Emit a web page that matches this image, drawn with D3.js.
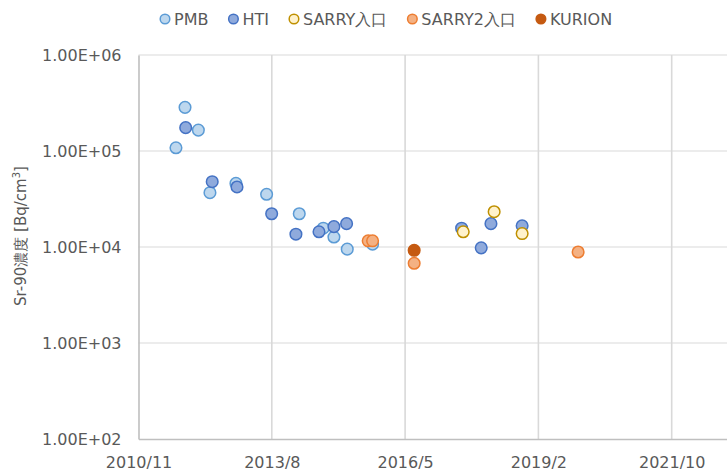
<!DOCTYPE html>
<html lang="ja">
<head>
    <meta charset="UTF-8">
    <title>Sr-90濃度</title>
    <script src="https://d3js.org/d3.v7.min.js"></script>
    <style>
        body { margin: 0; background: #fff; }
        svg text { font-family: "DejaVu Sans", Verdana, sans-serif; fill: #595959; }
    </style>
</head>
<body>
<svg id="chart" width="727" height="475"></svg>
<script>
    // series data (date, Bq/cm3)
    const pmbDates   = ["2011-08-26", "2011-11-02", "2012-02-10", "2012-05-07", "2012-11-18", "2013-07-06",
                        "2014-03-08", "2014-09-04", "2014-11-23", "2015-03-03", "2015-09-09"];
    const pmbValues  = [1.08e5, 2.85e5, 1.65e5, 3.68e4, 4.6e4, 3.54e4, 2.22e4, 1.57e4, 1.27e4, 9.5e3, 1.07e4];

    const htiDates   = ["2011-11-07", "2012-05-24", "2012-11-26", "2013-08-13", "2014-02-11", "2014-08-03",
                        "2014-11-23", "2015-02-26", "2017-07-08", "2017-12-02", "2018-02-13", "2018-10-05"];
    const htiValues  = [1.75e5, 4.79e4, 4.22e4, 2.22e4, 1.36e4, 1.44e4, 1.63e4, 1.75e4, 1.57e4, 9.8e3, 1.75e4, 1.66e4];

    const sarryDates  = ["2017-07-20", "2018-03-09", "2018-10-05"];
    const sarryValues = [1.44e4, 2.33e4, 1.38e4];

    const sarry2Dates  = ["2015-08-07", "2015-09-09", "2016-07-17", "2019-11-29"];
    const sarry2Values = [1.16e4, 1.16e4, 6.77e3, 8.87e3];

    const kurionDates  = ["2016-07-17"];
    const kurionValues = [9.24e3];

    const seriesNames = ["PMB", "HTI", "SARRY入口", "SARRY2入口", "KURION"];
    const yTicks = [1e2, 1e3, 1e4, 1e5, 1e6];
    // Excel-style date axis: start 40500, major unit 1000 days
    const xTickSerials = [40500, 41500, 42500, 43500, 44500];

    const styles = [
        { fill: "#BDD7EE", stroke: "#5B9BD5" },
        { fill: "#8FAADC", stroke: "#4472C4" },
        { fill: "#FFF2CC", stroke: "#BF9000" },
        { fill: "#F4B183", stroke: "#ED7D31" },
        { fill: "#C55A11", stroke: "#C55A11" }
    ];

    const parse = d3.timeParse("%Y-%m-%d");
    const fromSerial = s => new Date(1899, 11, 30 + s);

    const series = [
        { name: seriesNames[0], dates: pmbDates, values: pmbValues },
        { name: seriesNames[1], dates: htiDates, values: htiValues },
        { name: seriesNames[2], dates: sarryDates, values: sarryValues },
        { name: seriesNames[3], dates: sarry2Dates, values: sarry2Values },
        { name: seriesNames[4], dates: kurionDates, values: kurionValues }
    ].map((s, i) => ({
        name: s.name, style: styles[i],
        points: s.dates.map((d, j) => ({ date: parse(d), value: s.values[j] }))
    }));

    const svg = d3.select("#chart");
    const plotLeft = 138.5, plotTop = 55, plotBottom = 439;

    const x = d3.scaleTime()
        .domain([fromSerial(40500), fromSerial(45000)])
        .range([plotLeft, plotLeft + 4.5 * 133.3]);
    const y = d3.scaleLog().domain([1e2, 1e6]).range([plotBottom, plotTop]);

    // gridlines
    svg.append("g").selectAll("line")
        .data(yTicks.slice(1))
        .join("line")
        .attr("x1", plotLeft).attr("x2", 727)
        .attr("y1", d => y(d)).attr("y2", d => y(d))
        .attr("stroke", "#D9D9D9").attr("stroke-width", 1.2);
    svg.append("g").selectAll("line")
        .data(xTickSerials.slice(1))
        .join("line")
        .attr("x1", d => x(fromSerial(d))).attr("x2", d => x(fromSerial(d)))
        .attr("y1", plotTop).attr("y2", plotBottom)
        .attr("stroke", "#D9D9D9").attr("stroke-width", 1.6);

    // axes
    const yAxis = svg.append("g")
        .attr("transform", `translate(${plotLeft},0)`)
        .call(d3.axisLeft(y).tickValues(yTicks).tickSize(0).tickPadding(17)
            .tickFormat(d => d.toExponential(2).toUpperCase().replace(/E([+-])(\d)$/, "E$10$2")));
    yAxis.select(".domain").attr("stroke", "#BFBFBF").attr("stroke-width", 1.6);
    yAxis.selectAll("text").attr("font-size", 16).style("fill", "#595959");

    const xAxis = svg.append("g")
        .attr("transform", `translate(0,${plotBottom})`)
        .call(d3.axisBottom(x).tickValues(xTickSerials.map(fromSerial)).tickSize(0).tickPadding(18)
            .tickFormat(d3.timeFormat("%Y/%-m")));
    xAxis.select(".domain").attr("stroke", "#BFBFBF").attr("stroke-width", 1.6);
    xAxis.selectAll("text").attr("font-size", 16).style("fill", "#595959");

    // y title
    const title = svg.append("text")
        .attr("transform", "translate(26,236) rotate(-90)")
        .attr("text-anchor", "middle")
        .attr("font-size", 15);
    title.append("tspan").text("Sr-90濃度 [Bq/cm");
    title.append("tspan").attr("font-size", 10).attr("dy", -6).text("3");
    title.append("tspan").attr("dy", 6).text("]");

    // points
    series.forEach(s => {
        svg.append("g").selectAll("circle")
            .data(s.points)
            .join("circle")
            .attr("cx", d => x(d.date))
            .attr("cy", d => y(d.value))
            .attr("r", 5.8)
            .attr("fill", s.style.fill)
            .attr("stroke", s.style.stroke)
            .attr("stroke-width", 1.5);
    });

    // legend
    const legend = svg.append("g");
    let lx = 165;
    series.forEach(s => {
        legend.append("circle")
            .attr("cx", lx).attr("cy", 19).attr("r", 4.8)
            .attr("fill", s.style.fill).attr("stroke", s.style.stroke).attr("stroke-width", 1.5);
        const t = legend.append("text")
            .attr("x", lx + 9).attr("y", 19).attr("dy", "0.35em")
            .attr("font-size", 16).text(s.name);
        lx += 9 + t.node().getComputedTextLength() + 25;
    });
</script>
</body>
</html>
